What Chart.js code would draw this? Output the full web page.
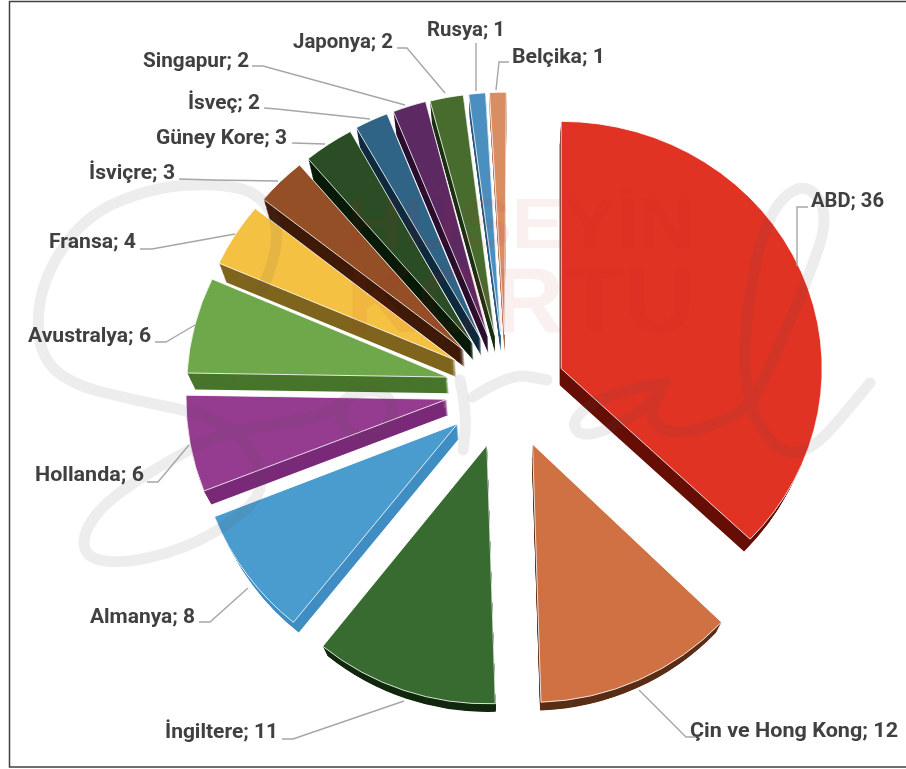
<!DOCTYPE html>
<html>
<head>
<meta charset="utf-8">
<style>html,body{margin:0;padding:0;background:#fff}canvas{display:block}</style>
<script src="https://cdn.jsdelivr.net/npm/chart.js@4"></script>
</head>
<body>
<canvas id="c" width="906" height="769"></canvas>
<script>
const categories = ['ABD','Çin ve Hong Kong','İngiltere','Almanya','Hollanda','Avustralya','Fransa','İsviçre','Güney Kore','İsveç','Singapur','Japonya','Rusya','Belçika'];
const values = [36,12,11,8,6,6,4,3,3,2,2,2,1,1];
const topColors = ['#E03324','#CF7142','#376B30','#4A9BCE','#953B90','#6FA84B','#F4C142','#944F27','#2A4D25','#2F6486','#5D2963','#476C2E','#4A8FBF','#D98D63'];
const sideColors = ['#660E05','#5A2E17','#12290F','#3F8DC3','#7A2A78','#47752B','#7F651E','#3F1A08','#071A07','#0E2A3D','#2A0E2E','#1C3012','#27597D','#B07050'];

// perspective nudges of each exploded slice
const nudgeX = [0,2,0,0,0,0,0,0,0,0,0,0,0,0];
const nudgeY = [2,1,0,0,0,0,0,0,0,0,0,1,1,1];
const shearX = [0,0,0,0,0,-0.04,-0.033,-0.032,-0.03,-0.021,-0.018,-0.008,-0.007,-0.007];

// label layout: left, right, vertical centre of the text
const labelBoxes = [[811,884,200],[690,898,730],[165,278,731],[90,195,616],[35,144,474],[28,151,335],[49,136,241],[89,175,172],[156,287,137],[188,260,102],[143,249,60],[293,393,41],[427,505,29],[512,605,56]];
const leaderLines = [
 [[808,207],[797,207],[797,266]],
 [[698,737],[686,737],[639,690]],
 [[282,739],[293,739],[404,701]],
 [[199,622],[210,622],[248,588]],
 [[147,482],[158,482],[189,445]],
 [[155,342],[166,342],[195,325]],
 [[140,249],[152,249],[235,234]],
 [[179,179],[213,180],[278,181]],
 [[292,143],[325,144]],
 [[264,108],[277,109],[370,119]],
 [[252,66],[263,66],[405,105]],
 [[397,48],[407,48],[445,93]],
 [[476,43],[476,91]],
 [[509,62],[499,62],[496,90]]
];
const scriptStrokes = [
 [[262,290],[284,240],[262,193],[213,183],[150,188],[83,217],[40,283],[37,350],[67,383],[133,400],[200,413],[240,433],[263,473],[257,503],[200,543],[133,563],[87,560],[82,533],[110,497],[187,450],[233,430],[327,417],[352,392],[385,390],[395,413],[380,438],[350,436],[338,413],[352,392]],
 [[460,380],[467,413],[463,450]],
 [[473,397],[510,373],[547,380]],
 [[665,383],[610,392],[569,420],[584,440],[642,413],[665,383],[646,420],[679,437],[745,413],[764,380],[808,280],[830,213],[804,180],[767,213],[745,313],[745,397],[771,447],[808,457],[870,383]]
];

const CENTER_OFFSET = 60, DEPTH = 16, LAYERS = 16;

function placeArc(ctx, arc, i, k) {
  const m = (arc.startAngle + arc.endAngle) / 2;
  const sy = 0.96 + 0.032 * Math.sin(m);
  const s = 1 - 0.025 * k;
  ctx.translate(arc.x + nudgeX[i] * s, arc.y + nudgeY[i] + DEPTH * k);
  ctx.scale(s, sy * s);
  ctx.transform(1, 0, shearX[i], 1, 0, 0);
  ctx.translate(Math.cos(m) * CENTER_OFFSET, Math.sin(m) * CENTER_OFFSET);
  ctx.translate(-arc.x, -arc.y);
}

const solidPie = {
  id: 'solidPie',
  beforeDatasetDraw(chart, args) {
    const ctx = chart.ctx, arcs = args.meta.data;
    for (let l = LAYERS; l >= 1; l--) {
      arcs.forEach((arc, i) => {
        const o = arc.options;
        arc.options = Object.assign({}, o, {backgroundColor: sideColors[i], borderWidth: 0, offset: 0});
        ctx.save(); placeArc(ctx, arc, i, l / LAYERS); arc.draw(ctx); ctx.restore();
        arc.options = o;
      });
    }
    arcs.forEach((arc, i) => {
      const o = arc.options;
      arc.options = Object.assign({}, o, {offset: 0});
      ctx.save(); placeArc(ctx, arc, i, 0); arc.draw(ctx); ctx.restore();
      arc.options = o;
    });
    return false;
  },
  afterDraw(chart) {
    const ctx = chart.ctx;
    ctx.save();
    // frame (open on the right, where the picture was cropped)
    ctx.strokeStyle = '#404040'; ctx.lineWidth = 1.5;
    ctx.beginPath(); ctx.moveTo(906, 1.5); ctx.lineTo(9.5, 1.5); ctx.lineTo(9.5, 767); ctx.lineTo(906, 767); ctx.stroke();
    // watermark: name
    ctx.fillStyle = 'rgba(190,30,30,0.065)';
    ctx.textAlign = 'left'; ctx.textBaseline = 'alphabetic';
    [['HÜSEYİN',346,695,248,70],['KORTU',346,695,332,92]].forEach(([t,a,b,y,fs]) => {
      ctx.save(); ctx.font = '700 ' + fs + 'px "Liberation Sans"';
      const w = ctx.measureText(t).width;
      ctx.translate(a, y); ctx.scale((b - a) / w, 1); ctx.fillText(t, 0, 0); ctx.restore();
    });
    // watermark: signature
    ctx.strokeStyle = 'rgba(90,80,80,0.10)'; ctx.lineWidth = 11; ctx.lineCap = 'round'; ctx.lineJoin = 'round';
    scriptStrokes.forEach(p => {
      ctx.beginPath(); ctx.moveTo(p[0][0], p[0][1]);
      for (let i = 1; i < p.length - 1; i++) {
        ctx.quadraticCurveTo(p[i][0], p[i][1], (p[i][0] + p[i+1][0]) / 2, (p[i][1] + p[i+1][1]) / 2);
      }
      ctx.lineTo(p[p.length-1][0], p[p.length-1][1]);
      ctx.stroke();
    });
    // leader lines
    ctx.strokeStyle = '#A6A6A6'; ctx.lineWidth = 1.4; ctx.lineCap = 'butt'; ctx.lineJoin = 'miter';
    leaderLines.forEach(p => {
      ctx.beginPath(); p.forEach((q, i) => i ? ctx.lineTo(q[0], q[1]) : ctx.moveTo(q[0], q[1])); ctx.stroke();
    });
    // labels
    ctx.fillStyle = '#404040'; ctx.textBaseline = 'middle'; ctx.textAlign = 'left';
    ctx.font = '700 20.5px Roboto';
    categories.forEach((c, i) => {
      const t = c + '; ' + values[i], [a, b, y] = labelBoxes[i];
      const w = ctx.measureText(t).width;
      ctx.save(); ctx.translate(a, y + 1.5); ctx.scale((b - a) / w, 1); ctx.fillText(t, 0, 0); ctx.restore();
    });
    ctx.restore();
  }
};

new Chart(document.getElementById('c'), {
  type: 'pie',
  data: {labels: categories, datasets: [{data: values, backgroundColor: topColors, borderColor: 'rgba(255,255,255,0.85)', borderWidth: 1}]},
  options: {
    responsive: false, animation: false, radius: 261,
    layout: {padding: {left: 106, top: 9, right: 0, bottom: 0}},
    plugins: {legend: {display: false}, tooltip: {enabled: false}}
  },
  plugins: [solidPie]
});
</script>
</body>
</html>
